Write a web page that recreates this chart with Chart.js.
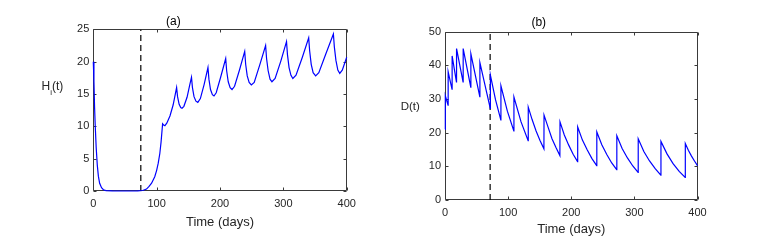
<!DOCTYPE html>
<html>
<head>
<meta charset="utf-8">
<script src="https://cdn.jsdelivr.net/npm/chart.js@4"></script>
<style>
  body { margin: 0; background: #fff; }
  canvas { position: absolute; top: 0; }
  #chartA { left: 0; }
  #chartB { left: 380px; }
</style>
</head>
<body>
<canvas id="chartA" width="380" height="243"></canvas>
<canvas id="chartB" width="397" height="243"></canvas>
<script>
// tick values
let xTickValues = [0, 100, 200, 300, 400];
let hiTickValues = [0, 5, 10, 15, 20, 25];
let dTickValues = [0, 10, 20, 30, 40, 50];

// (a) H_i(t)
let hiDays = [0, 1, 2, 3, 4.5, 6.3, 8, 10, 13, 16, 20, 30, 50, 70, 78, 84, 88, 92, 97, 100, 102.5, 105, 107, 109.4,
  111, 113, 116, 121, 126, 131.5, 133, 135.5, 138, 140, 143, 148, 152, 155, 156.5, 159, 162, 165, 169, 175, 181,
  182.5, 185, 188, 190.5, 194, 201, 209, 210.5, 213, 216, 219, 223, 231, 239, 240.5, 243, 246, 249.5, 254, 263, 272,
  273.5, 276, 279, 282, 287, 296, 305, 306.5, 309, 312, 315, 320, 330, 340, 341.5, 344, 347, 351, 356, 367, 379,
  380.5, 383, 386, 389, 393, 400];
let hiValues = [20.0, 17, 13, 10.2, 6.8, 4.0, 2.3, 1.2, 0.5, 0.2, 0.07, 0.02, 0.0, 0.02, 0.08, 0.3, 0.7, 1.2, 2.2, 3.2, 4.3, 5.8, 7.6, 10.4,
  10.2, 10.1, 10.5, 11.6, 13.3, 16.0, 14.6, 13.4, 12.9, 12.8, 13.1, 14.5, 16.3, 17.6, 16.0, 14.6, 13.9, 13.7, 14.3, 16.5, 19.1,
  17.3, 15.7, 14.9, 14.7, 15.2, 17.6, 20.5, 18.6, 16.9, 16.0, 15.7, 16.2, 18.8, 21.6, 19.6, 17.8, 16.8, 16.4, 16.8, 19.6, 22.5,
  20.5, 18.6, 17.3, 16.9, 17.4, 20.1, 23.1, 21.1, 19.1, 17.9, 17.4, 17.9, 20.7, 23.7, 21.7, 19.6, 18.3, 17.8, 18.3, 21.2, 24.3,
  22.3, 20.2, 18.7, 18.2, 18.7, 20.7];

// (b) D(t)
let dDays = [0, 0.5, 4.8, 5.0, 11.1, 11.3, 18.1, 18.3, 28.6, 28.8, 40.8, 41.0, 55.1, 55.3, 71.7, 71.9, 80, 88.4, 88.6, 98.8,
  109, 109.2, 120.5, 131.7, 131.9, 138, 144.3, 150.5, 156.7, 156.9, 163, 169.5, 175.8, 182, 182.2, 189, 196, 203, 210,
  210.2, 217.7, 225.2, 232.8, 240.3, 240.5, 248.4, 256.3, 264.1, 272, 272.2, 280.6, 289, 297.5, 305.9, 306.1, 315, 324, 333,
  341.9, 342.1, 351.7, 361.3, 371, 380.5, 380.7, 385.5, 390.3, 395.2, 400];
let dValues = [21.0, 31.0, 28.2, 38.1, 32.9, 42.8, 35.1, 45.0, 35.1, 45.0, 33.5, 43.4, 30.7, 40.8, 27.2, 37.1, 29.8, 23.8, 33.9, 26.4,
  20.5, 30.6, 23.2, 17.6, 27.6, 23.9, 20.5, 17.7, 15.2, 25.2, 21.8, 18.2, 15.6, 13.2, 23.2, 19.3, 16.3, 13.6, 11.4,
  21.7, 17.8, 14.9, 12.3, 10.2, 20.2, 16.4, 13.5, 11.0, 9.0, 19.1, 15.3, 12.5, 10.1, 8.2, 18.2, 14.4, 11.6, 9.3,
  7.4, 17.4, 13.7, 10.8, 8.5, 6.7, 16.8, 14.8, 13.1, 11.6, 10.2];

// dashed vertical markers
let markerDayA = 75;
let markerDayB = 71.5;

let fontFamily = '"Liberation Sans", Arial, Helvetica, sans-serif';
let textColor = '#262626';

let toPoints = (xs, ys) => xs.map((x, i) => ({ x: x, y: ys[i] }));

// box around the plot with inward ticks, matlab style (drawn under the lines)
let framePlugin = {
    id: 'frame',
    beforeDatasetsDraw(chart) {
        let ctx = chart.ctx;
        let a = chart.chartArea;
        let x = chart.scales.x;
        let y = chart.scales.y;
        let L = Math.round(a.left) + 0.5, R = Math.round(a.right) - 0.5;
        let T = Math.round(a.top) + 0.5, B = Math.round(a.bottom) - 0.5;
        ctx.save();
        ctx.strokeStyle = '#3a3a3a';
        ctx.lineWidth = 1;
        ctx.beginPath();
        ctx.rect(L, T, R - L, B - T);
        x.ticks.forEach(t => {
            let px = Math.round(x.getPixelForValue(t.value)) + 0.5;
            ctx.moveTo(px, B); ctx.lineTo(px, B - 3);
            ctx.moveTo(px, T); ctx.lineTo(px, T + 3);
        });
        y.ticks.forEach(t => {
            let py = Math.round(y.getPixelForValue(t.value)) + 0.5;
            ctx.moveTo(L, py); ctx.lineTo(L + 3, py);
            ctx.moveTo(R, py); ctx.lineTo(R - 3, py);
        });
        ctx.stroke();
        ctx.restore();
    }
};

// horizontal y label with optional subscript
let yLabelPlugin = {
    id: 'ylabel',
    afterDraw(chart, args, opts) {
        let ctx = chart.ctx;
        ctx.save();
        ctx.fillStyle = textColor;
        ctx.textBaseline = 'alphabetic';
        ctx.textAlign = 'left';
        let x = opts.x;
        for (let part of opts.parts) {
            ctx.font = part.size + 'px ' + fontFamily;
            ctx.fillText(part.text, x, opts.y + (part.dy || 0));
            x += ctx.measureText(part.text).width;
        }
        ctx.restore();
    }
};

let makeChart = (id, cfg) => {
    let ctx = document.getElementById(id).getContext('2d');
    return new Chart(ctx, {
        type: 'line',
        data: {
            datasets: [
                {
                    data: cfg.points,
                    borderColor: '#0000ff',
                    borderWidth: 1.2,
                    pointRadius: 0,
                    tension: 0,
                    clip: 2
                },
                {
                    data: [{ x: cfg.marker, y: cfg.yMin }, { x: cfg.marker, y: cfg.yMax }],
                    borderColor: '#000000',
                    borderWidth: 1.2,
                    borderDash: [6, 4],
                    pointRadius: 0
                }
            ]
        },
        options: {
            responsive: false,
            animation: false,
            layout: { padding: { left: 0, right: cfg.padRight, top: 0, bottom: 0 } },
            plugins: {
                legend: { display: false },
                tooltip: { enabled: false },
                title: {
                    display: true,
                    text: cfg.title,
                    color: '#000',
                    font: { family: fontFamily, size: 12, weight: 'normal' },
                    padding: cfg.titlePad
                },
                ylabel: cfg.ylabel
            },
            scales: {
                x: {
                    type: 'linear',
                    min: 0,
                    max: 400,
                    grid: { display: false, drawTicks: false },
                    border: { display: false },
                    afterBuildTicks: s => { s.ticks = xTickValues.map(v => ({ value: v })); },
                    afterFit: s => { s.height = cfg.xHeight; },
                    ticks: {
                        color: textColor,
                        padding: 6,
                        maxRotation: 0,
                        font: { family: fontFamily, size: 11 }
                    },
                    title: {
                        display: true,
                        text: 'Time (days)',
                        color: textColor,
                        font: { family: fontFamily, size: 13 },
                        padding: { top: 0, bottom: cfg.xTitlePad }
                    }
                },
                y: {
                    min: cfg.yMin,
                    max: cfg.yMax,
                    grid: { display: false, drawTicks: false },
                    border: { display: false },
                    afterBuildTicks: s => { s.ticks = cfg.yTicks.map(v => ({ value: v })); },
                    afterFit: s => { s.width = cfg.yWidth; },
                    ticks: {
                        color: textColor,
                        padding: 4,
                        font: { family: fontFamily, size: 11 }
                    }
                }
            }
        },
        plugins: [framePlugin, yLabelPlugin]
    });
};

let chartA = makeChart('chartA', {
    points: toPoints(hiDays, hiValues),
    marker: markerDayA,
    yMin: 0, yMax: 25, yTicks: hiTickValues,
    title: '(a)',
    titlePad: { top: 14.5, bottom: 0.5 },
    padRight: 33.3,
    xHeight: 52,
    xTitlePad: 13.2,
    yWidth: 93.3,
    ylabel: { x: 41.5, y: 90, parts: [{ text: 'H', size: 12 }, { text: 'i', size: 8, dy: 5 }, { text: '(t)', size: 12 }] }
});

let chartB = makeChart('chartB', {
    points: toPoints(dDays, dValues),
    marker: markerDayB,
    yMin: 0, yMax: 50, yTicks: dTickValues,
    title: '(b)',
    titlePad: { top: 15.5, bottom: 1.8 },
    padRight: 79.5,
    xHeight: 43,
    xTitlePad: 5.7,
    yWidth: 65,
    ylabel: { x: 20.7, y: 110.3, parts: [{ text: 'D(t)', size: 11.5 }] }
});
</script>
</body>
</html>
